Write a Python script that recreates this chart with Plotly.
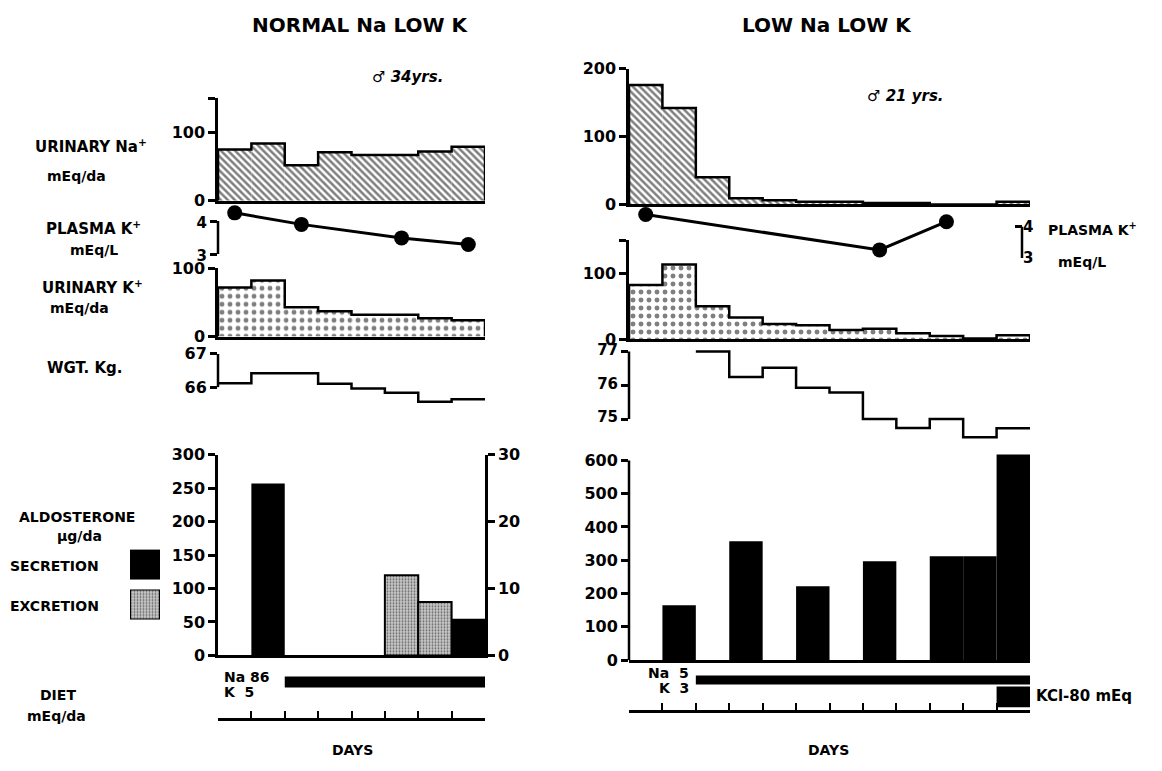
import plotly.graph_objects as go

W, H = 1162, 771

# ---------------- data ----------------
# Left: NORMAL Na LOW K (8 days)
na_left = [75, 84, 52, 71, 67, 67, 72, 79]
k_left = [72, 82, 43, 37, 32, 32, 27, 24]
wgt_left_days = [0, 1, 2, 3, 4, 5, 6, 7]
wgt_left = [66.12, 66.42, 66.42, 66.10, 65.96, 65.83, 65.56, 65.64]
pk_left_days = [0.5, 2.5, 5.5, 7.5]
pk_left = [4.25, 3.90, 3.49, 3.29]
aldo_sec_left = [None, 257, None, None, None, None, None, 55]
aldo_exc_left = [None, None, None, None, None, 12, 8, None]
diet_left_start, diet_left_end = 2, 8

# Right: LOW Na LOW K (12 days)
na_right = [176, 142, 40, 9, 6, 4, 4, 2, 2, 0, 0, 4]
k_right = [82, 113, 50, 33, 23, 21, 14, 16, 9, 5, 1, 6]
wgt_right_days = [2, 3, 4, 5, 6, 7, 8, 9, 10, 11]
wgt_right = [77.0, 76.25, 76.52, 75.93, 75.79, 75.0, 74.74, 75.0, 74.46, 74.73]
pk_right_days = [0.5, 7.5, 9.5]
pk_right = [4.39, 3.26, 4.16]
aldo_sec_right = [None, 165, None, 357, None, 222, None, 297, None, 312, 312, 618]
diet_right_start, diet_right_end = 2, 12
kcl_start, kcl_end = 11, 12

FONT = "DejaVu Sans"
LW = 2.5


def X(px):
    return px / W


def T(r):
    # vertical screen position -> figure pixel position (empirical page offset/scale)
    return (r - 8.6) / 0.9755


def PY(r):
    return 1 - T(r) / H


def Ydom(top, bottom):
    return [PY(bottom), PY(top)]


LX = [X(218), X(485)]
RX = [X(629), X(1030)]

HATCH = dict(shape="\\", fgcolor="black", bgcolor="white", size=5, solidity=0.5)
DOTS = dict(shape=".", fgcolor="black", bgcolor="white", size=8, solidity=0.3)
STIPPLE = dict(shape=".", fgcolor="black", bgcolor="#c8c8c8", size=3, solidity=0.3)

fig = go.Figure()


def step_outline(vals):
    n = len(vals)
    xs = [0] + list(range(n)) + [n, n]
    ys = [0] + list(vals) + [vals[-1], 0]
    return xs, ys


def bar_panel(vals, xa, ya, pattern):
    centers = [d + 0.5 for d in range(len(vals))]
    fig.add_trace(go.Bar(x=centers, y=vals, width=1, xaxis=xa, yaxis=ya,
                         marker=dict(color="white", pattern=pattern, line=dict(width=0))))
    xs, ys = step_outline(vals)
    fig.add_trace(go.Scatter(x=xs, y=ys, mode="lines", xaxis=xa, yaxis=ya,
                             line=dict(color="black", width=LW, shape="hv")))


def step_line(days, vals, xa, ya):
    xs = list(days) + [days[-1] + 1]
    ys = list(vals) + [vals[-1]]
    fig.add_trace(go.Scatter(x=xs, y=ys, mode="lines", xaxis=xa, yaxis=ya,
                             line=dict(color="black", width=LW, shape="hv")))


def pk_line(days, vals, xa, ya):
    fig.add_trace(go.Scatter(x=days, y=vals, mode="lines+markers", xaxis=xa, yaxis=ya,
                             cliponaxis=False,
                             line=dict(color="black", width=3),
                             marker=dict(color="black", size=15)))


# ----- left column -----
bar_panel(na_left, "x", "y", HATCH)
pk_line(pk_left_days, pk_left, "x2", "y2")
bar_panel(k_left, "x3", "y3", DOTS)
step_line(wgt_left_days, wgt_left, "x4", "y4")
fig.add_trace(go.Bar(x=[d + 0.5 for d in range(len(aldo_sec_left))], y=aldo_sec_left, width=1,
                     xaxis="x5", yaxis="y5", marker=dict(color="black", line=dict(width=0))))
fig.add_trace(go.Bar(x=[d + 0.5 for d in range(len(aldo_exc_left))], y=aldo_exc_left, width=1,
                     xaxis="x5", yaxis="y6",
                     marker=dict(color="#c8c8c8", pattern=STIPPLE, line=dict(color="black", width=2))))
fig.add_trace(go.Bar(y=[3.65], x=[diet_left_end - diet_left_start], base=[diet_left_start],
                     orientation="h", width=1.1, xaxis="x6", yaxis="y7",
                     marker=dict(color="black", line=dict(width=0))))

# ----- right column -----
bar_panel(na_right, "x7", "y8", HATCH)
pk_line(pk_right_days, pk_right, "x8", "y9")
bar_panel(k_right, "x9", "y10", DOTS)
step_line(wgt_right_days, wgt_right, "x10", "y11")
fig.add_trace(go.Bar(x=[d + 0.5 for d in range(len(aldo_sec_right))], y=aldo_sec_right, width=1,
                     xaxis="x11", yaxis="y12", marker=dict(color="black", line=dict(width=0))))
fig.add_trace(go.Bar(y=[3.05], x=[diet_right_end - diet_right_start], base=[diet_right_start],
                     orientation="h", width=0.9, xaxis="x12", yaxis="y13",
                     marker=dict(color="black", line=dict(width=0))))
fig.add_trace(go.Bar(y=[1.35], x=[kcl_end - kcl_start], base=[kcl_start],
                     orientation="h", width=2.1, xaxis="x12", yaxis="y13",
                     marker=dict(color="black", line=dict(width=0))))

# legend key for excretion (stippled box)
fig.add_trace(go.Bar(x=[0.5], y=[1], width=1, xaxis="x13", yaxis="y14",
                     marker=dict(color="#c8c8c8", pattern=STIPPLE, line=dict(color="black", width=2))))

# ---------------- axes ----------------
def xaxis(domain, rng, anchor, line=False, ticks=None):
    d = dict(domain=domain, range=rng, anchor=anchor, showgrid=False, zeroline=False,
             showticklabels=False, ticks="", showline=line, linewidth=LW, linecolor="black",
             fixedrange=True)
    if ticks is not None:
        d.update(ticks="inside", tickvals=ticks, ticklen=8, tickwidth=2, tickcolor="black")
    return d


def yaxis(domain, rng, anchor, tickvals, line=True, side="left", ticks="outside",
          size=16, extra_tick=None, shift=0):
    d = dict(domain=domain, range=rng, anchor=anchor, showgrid=False, zeroline=False,
             tickvals=tickvals, ticks=ticks, ticklen=7, tickwidth=LW, tickcolor="black",
             showline=line, linewidth=LW, linecolor="black", side=side,
             tickfont=dict(size=size, family=FONT, weight="bold"), fixedrange=True,
             ticklabelshift=shift)
    if extra_tick is not None:
        d["minor"] = dict(tickvals=[extra_tick], ticks=ticks, ticklen=7, tickwidth=LW,
                          tickcolor="black", showgrid=False)
    return d


hidden_y = lambda dom, rng, anchor: dict(domain=dom, range=rng, anchor=anchor, visible=False,
                                         fixedrange=True)

layout = dict(
    width=W, height=H, margin=dict(l=0, r=0, t=0, b=0),
    paper_bgcolor="white", plot_bgcolor="rgba(0,0,0,0)", showlegend=False, barmode="overlay",
    font=dict(family=FONT, size=14, color="black", weight="bold"),
)

# left
layout["xaxis"] = xaxis(LX, [0, 8], "y", line=True)
layout["yaxis"] = yaxis(Ydom(98, 200.7), [0, 150], "x", [0, 100], extra_tick=150)
layout["xaxis2"] = xaxis(LX, [0, 8], "y2")
layout["yaxis2"] = yaxis(Ydom(204.5, 254), [3, 4.5], "x2", [3, 4], line=False, size=15, shift=2)
layout["xaxis3"] = xaxis(LX, [0, 8], "y3", line=True)
layout["yaxis3"] = yaxis(Ydom(268.3, 336.7), [0, 100], "x3", [0, 100])
layout["xaxis4"] = xaxis(LX, [0, 8], "y4")
layout["yaxis4"] = yaxis(Ydom(354, 407.3), [65.4, 67], "x4", [66, 67], line=False)
layout["xaxis5"] = xaxis(LX, [0, 8], "y5", line=True)
layout["yaxis5"] = yaxis(Ydom(455, 656), [0, 300], "x5", [0, 50, 100, 150, 200, 250, 300])
layout["yaxis6"] = yaxis(Ydom(455, 656), [0, 30], "x5", [0, 10, 20, 30], side="right")
layout["yaxis6"]["overlaying"] = "y5"
layout["xaxis6"] = xaxis(LX, [0, 8], "y7", line=True, ticks=list(range(0, 9)))
layout["yaxis7"] = hidden_y(Ydom(670, 719), [0, 4.9], "x6")

# right
layout["xaxis7"] = xaxis(RX, [0, 12], "y8", line=True)
layout["yaxis8"] = yaxis(Ydom(68.3, 204.3), [0, 200], "x7", [0, 100, 200])
layout["xaxis8"] = xaxis(RX, [0, 12], "y9")
layout["yaxis9"] = yaxis(Ydom(211, 258), [3, 4.5], "free", [3, 4], line=False, side="right",
                         ticks="inside", size=15)
layout["yaxis9"]["position"] = X(1022)
layout["xaxis9"] = xaxis(RX, [0, 12], "y10", line=True)
layout["yaxis10"] = yaxis(Ydom(240, 339.3), [0, 150], "x9", [0, 100], extra_tick=150)
layout["xaxis10"] = xaxis(RX, [0, 12], "y11")
layout["yaxis11"] = yaxis(Ydom(350, 443), [74.3, 77.05], "x10", [75, 76, 77], line=False, size=15,
                          shift=-2)
layout["xaxis11"] = xaxis(RX, [0, 12], "y12", line=True)
layout["yaxis12"] = yaxis(Ydom(450.7, 660.7), [0, 630], "x11", [0, 100, 200, 300, 400, 500, 600],
                          line=False)
layout["xaxis12"] = xaxis(RX, [0, 12], "y13", line=True, ticks=list(range(0, 13)))
layout["yaxis13"] = hidden_y(Ydom(662, 711), [0, 4.9], "x12")

# legend key axes
layout["xaxis13"] = dict(domain=[X(130), X(160)], range=[0, 1], anchor="y14", visible=False,
                         fixedrange=True)
layout["yaxis14"] = hidden_y(Ydom(590, 620), [0, 1], "x13")

fig.update_layout(**layout)

# partial axis lines (axis spans only part of the panel)
line = dict(color="black", width=LW)
fig.add_shape(type="line", xref="x2 domain", yref="y2", x0=0, x1=0, y0=3, y1=4, line=line)
fig.add_shape(type="line", xref="x4 domain", yref="y4", x0=0, x1=0, y0=66, y1=67, line=line)
fig.add_shape(type="line", xref="paper", yref="y9", x0=X(1022), x1=X(1022), y0=3, y1=4, line=line)
fig.add_shape(type="line", xref="x10 domain", yref="y11", x0=0, x1=0, y0=75, y1=77, line=line)
fig.add_shape(type="line", xref="x11 domain", yref="y12", x0=0, x1=0, y0=0, y1=600, line=line)
# secretion legend key
fig.add_shape(type="rect", xref="paper", yref="paper", x0=X(130), x1=X(160),
              y0=PY(580), y1=PY(550), fillcolor="black", line=dict(width=0))


def ann(text, px, r, size=14, anchor="left", yanchor="middle"):
    y = PY(r) if r is not None else 0
    fig.add_annotation(text=text, x=X(px), y=y, xref="paper", yref="paper",
                       xanchor=anchor, yanchor=yanchor, showarrow=False,
                       font=dict(size=size, family=FONT, weight="bold"))


ann("NORMAL Na LOW K", 360, 25, size=20, anchor="center")
ann("LOW Na LOW K", 827, 25, size=20, anchor="center")
ann("♂ <i>34yrs.</i>", 370, 77, size=15)
ann("♂ <i>21 yrs.</i>", 865, 96, size=15)

ann("URINARY Na<sup>+</sup>", 33, 146, size=15)
ann("mEq/da", 45, 176)
ann("PLASMA K<sup>+</sup>", 44, 228, size=15)
ann("mEq/L", 68, 250)
ann("URINARY K<sup>+</sup>", 40, 287, size=15)
ann("mEq/da", 48, 308)
ann("WGT. Kg.", 45, 368, size=15)
ann("ALDOSTERONE", 17, 517)
ann("μg/da", 55, 536)
ann("SECRETION", 8, 566)
ann("EXCRETION", 8, 606)
ann("DIET", 38, 696)
ann("mEq/da", 25, 717)

ann("Na 86", 222, 678)
ann("K  5", 222, 693)
ann("Na  5", 691, 674, anchor="right")
ann("K  3", 691, 689, anchor="right")
ann("KCl-80 mEq", 1034, 697, size=15)

ann("PLASMA K<sup>+</sup>", 1046, 229)
ann("mEq/L", 1056, 262)

ann("DAYS", 352, None, anchor="center", yanchor="bottom")
ann("DAYS", 828, None, anchor="center", yanchor="bottom")

fig.write_html("out.html")
